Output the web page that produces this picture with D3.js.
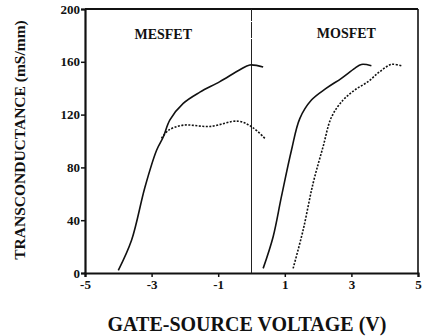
<!DOCTYPE html>
<html>
<head>
<meta charset="utf-8">
<script src="https://cdn.jsdelivr.net/npm/d3@7"></script>
<style>
  body { margin: 0; background: #fff; }
  text { font-family: "Liberation Serif", "DejaVu Serif", serif; font-weight: bold; fill: #111; }
</style>
</head>
<body>
<div id="chart"></div>
<script>
// tick values
let xTicks = [-5, -3, -1, 1, 3, 5];
let yTicks = [0, 40, 80, 120, 160, 200];

// MESFET curves (gate-source voltage, transconductance)
let mesfetSolidV = [-4.0, -3.6, -3.2, -2.85, -2.65, -2.45, -2.05, -1.55, -0.95, -0.35, -0.05, 0.35];
let mesfetSolidG = [2, 25, 65, 93, 103, 116, 128.5, 137, 145, 154, 157.6, 156];
let mesfetDotV = [-2.7, -2.5, -2.05, -1.25, -0.4, 0.05, 0.4];
let mesfetDotG = [102, 108, 112, 111, 115, 110, 102];

// MOSFET curves
let mosfetSolidV = [0.35, 0.65, 0.9, 1.2, 1.45, 1.8, 2.25, 2.7, 3.1, 3.3, 3.6];
let mosfetSolidG = [3.5, 27.5, 58, 93, 117, 131, 140, 147.5, 155, 158, 157];
let mosfetDotV = [1.25, 1.55, 1.85, 2.15, 2.4, 2.75, 3.1, 3.5, 3.85, 4.2, 4.5];
let mosfetDotG = [3.5, 32.5, 68, 95.7, 118, 131, 138.6, 145, 152.5, 158, 157];

let margin = { top: 9, right: 7, bottom: 63, left: 85 };
let width = 425 - margin.left - margin.right,
    height = 336 - margin.top - margin.bottom;

let svg = d3.select("#chart").append("svg")
    .attr("width", 425)
    .attr("height", 336);
let g = svg.append("g")
    .attr("transform", "translate(" + margin.left + "," + margin.top + ")");

let x = d3.scaleLinear().domain([-5, 5]).range([0, width]);
let y = d3.scaleLinear().domain([0, 200]).range([height, 0]);

// axes
let xAxis = g.append("g")
    .attr("transform", "translate(0," + height + ")")
    .call(d3.axisBottom(x).tickValues(xTicks).tickSize(4).tickPadding(3).tickFormat(d3.format("d")));
let yAxis = g.append("g")
    .call(d3.axisLeft(y).tickValues(yTicks).tickSize(4).tickPadding(1));

[xAxis, yAxis].forEach(a => {
  a.select(".domain").attr("stroke", "#111").attr("stroke-width", 2.2);
  a.selectAll(".tick line").attr("stroke", "#111").attr("stroke-width", 1.5);
  a.selectAll(".tick text").style("font-size", "13px").attr("fill", "#111");
});
xAxis.selectAll(".tick text").text(d => d < 0 ? "-" + Math.abs(d) : d);

// frame top and right
g.append("line").attr("x1", 0).attr("x2", width).attr("y1", 0).attr("y2", 0)
  .attr("stroke", "#111").attr("stroke-width", 2.2);
g.append("line").attr("x1", width).attr("x2", width).attr("y1", 0).attr("y2", height)
  .attr("stroke", "#111").attr("stroke-width", 1.6);

// divider at V = 0
g.append("line").attr("x1", x(0)).attr("x2", x(0)).attr("y1", 0).attr("y2", height)
  .attr("stroke", "#222").attr("stroke-width", 1)
  .attr("stroke-dasharray", "12,1,16,1,300,0");

let line = d3.line().x(d => x(d[0])).y(d => y(d[1])).curve(d3.curveCatmullRom.alpha(0.5));
let curves = [
  { v: mesfetSolidV, g: mesfetSolidG, dash: null },
  { v: mesfetDotV, g: mesfetDotG, dash: "2,1.5" },
  { v: mosfetSolidV, g: mosfetSolidG, dash: null },
  { v: mosfetDotV, g: mosfetDotG, dash: "2,1.5" }
];
curves.forEach(c => {
  g.append("path")
    .datum(c.v.map((v, i) => [v, c.g[i]]))
    .attr("fill", "none")
    .attr("stroke", "#111")
    .attr("stroke-width", 1.6)
    .attr("stroke-linejoin", "round")
    .attr("stroke-dasharray", c.dash)
    .attr("d", line);
});

// panel labels
g.append("text").attr("x", x(-2.65)).attr("y", 30).attr("text-anchor", "middle")
  .style("font-size", "14px").text("MESFET");
g.append("text").attr("x", x(2.85)).attr("y", 29).attr("text-anchor", "middle")
  .style("font-size", "14px").text("MOSFET");

// axis titles
svg.append("text")
  .attr("transform", "translate(25," + 140 + ") rotate(-90)")
  .attr("text-anchor", "middle")
  .style("font-size", "15.5px")
  .text("TRANSCONDUCTANCE (mS/mm)");
svg.append("text")
  .attr("x", 247).attr("y", 331)
  .attr("text-anchor", "middle")
  .style("font-size", "20px")
  .text("GATE-SOURCE VOLTAGE (V)");
</script>
</body>
</html>
